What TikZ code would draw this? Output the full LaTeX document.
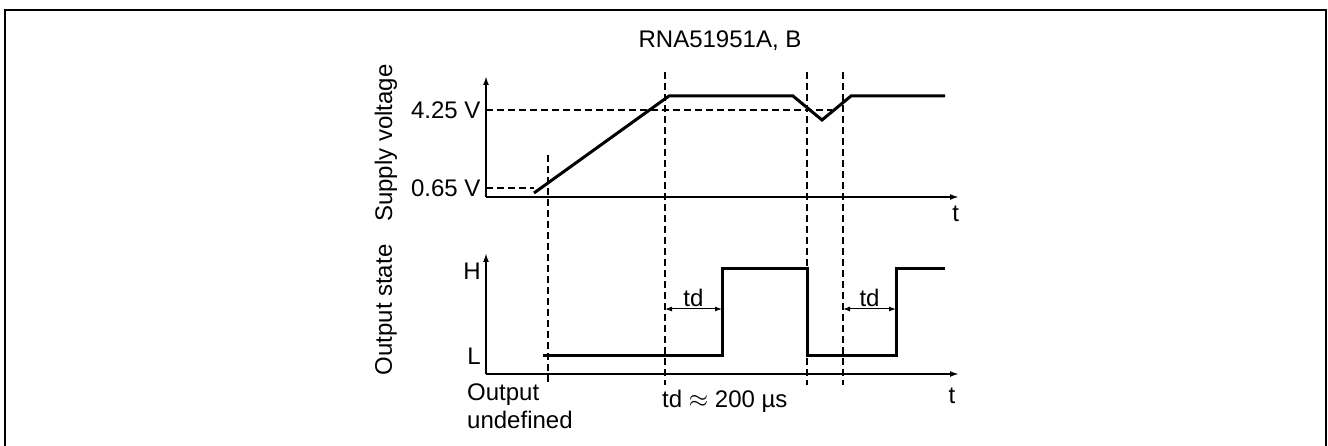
\documentclass[tikz,border=0pt]{standalone}
\usepackage{fontspec}
\setmainfont{Liberation Sans}
\usepackage{tikz}
\usetikzlibrary{arrows.meta}

\tikzset{
  lbl/.style={font=\fontsize{24}{28}\selectfont, inner sep=2pt},
  sig/.style={line width=3pt, line join=miter},
  axis/.style={line width=2pt, -{Latex[length=9pt,width=6pt]}},
  guide/.style={line width=1.2pt, dash pattern=on 7pt off 4pt},
  dim/.style={line width=1pt, {Latex[length=7pt,width=5pt]}-{Latex[length=7pt,width=5pt]}}
}

\begin{document}
\begin{tikzpicture}[x=1pt,y=-1pt]
        \useasboundingbox (0,0) rectangle (1328,446);
        % frame
        \draw[line width=2.5pt] (5,446) -- (5,10) -- (1326,10) -- (1326,446);
        \node[lbl] (title) at (720,41) {RNA51951A, B};
        % supply voltage
        \coordinate (vo) at (486,197);
        \draw[axis] (vo) -- (486,76);
        \draw[axis] (vo) -- (959,197) node[lbl, anchor=north east] (vt) at (962,203) {t};
        \draw[guide] (486,110) node[lbl, anchor=east] (vhi) at (483,110) {4.25 V} -- (832,110);
        \draw[guide] (486,188) node[lbl, anchor=east] (vlo) at (483,188) {0.65 V} -- (534,188);
        \draw[sig] (534,193) -- (669,96) -- (793,96) -- (822,120) -- (851,96) -- (945,96);
        \node[lbl, rotate=90] (vname) at (386,143) {Supply voltage};
        % output state
        \coordinate (so) at (486,374);
        \draw[axis] (so) -- (486,253);
        \draw[axis] (so) -- (959,374);
        \node[lbl, anchor=east] (sh) at (483,271) {H};
        \node[lbl, anchor=east] (sl) at (483,356) {L};
        \draw[sig] (543,355) -- (722,355) -- (722,269) -- (807,269) -- (807,355) -- (896,355) -- (896,269) -- (945,269);
        \node[lbl, rotate=90] (sname) at (386,310) {Output state};
        \node[lbl] (st) at (952,396) {t};
        % guides
        \draw[guide] (548,155) -- (548,385);
        \draw[guide] (665,72) -- (665,385);
        \draw[guide] (807,72) -- (807,385);
        \draw[guide] (843,72) -- (843,385);
        % delays
        \draw[dim] (665,309) -- (722,309) node[lbl, midway, anchor=south] (td1) at (693,303) {td};
        \draw[dim] (843,309) -- (896,309) node[lbl, midway, anchor=south] (td2) at (869,303) {td};
        \node[lbl, anchor=west] (tdval) at (660,401) {td \(\approx\) 200 µs};
        \node[lbl, anchor=north west, align=left, inner sep=0pt] (undef) at (467,384) {Output\\undefined};
\end{tikzpicture}
\end{document}
